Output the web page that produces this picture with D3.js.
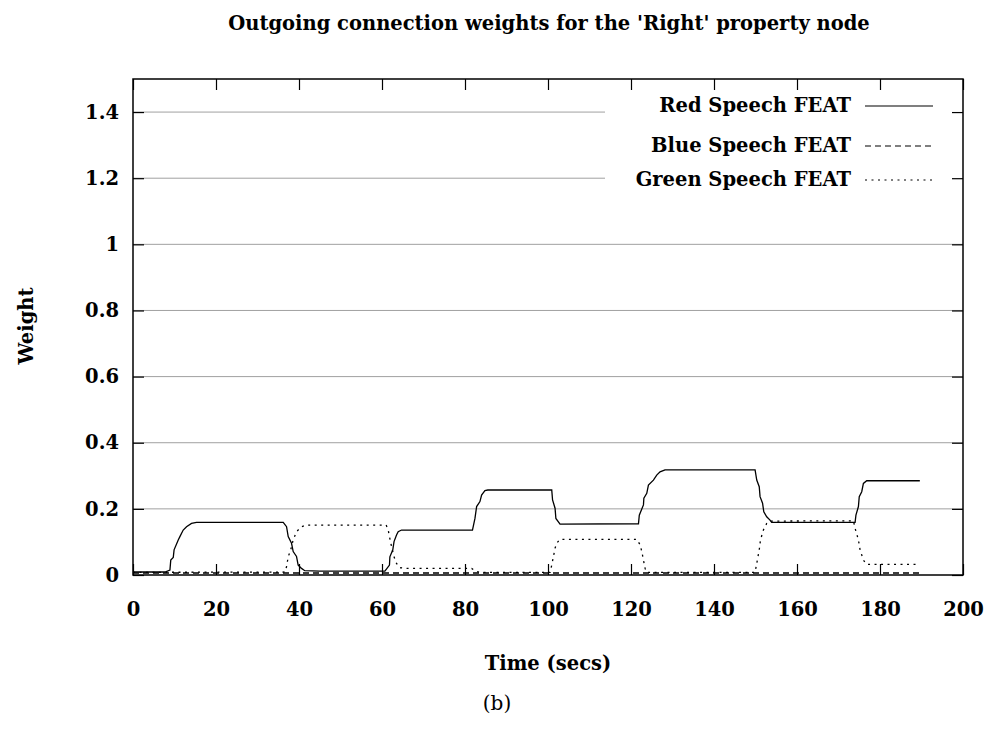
<!DOCTYPE html>
<html>
<head>
<meta charset="utf-8">
<script src="https://cdn.jsdelivr.net/npm/d3@7/dist/d3.min.js"></script>
<style>
  html, body { margin: 0; padding: 0; background: #fff; }
  svg text { font-family: "DejaVu Serif", "Liberation Serif", serif; fill: #000; }
</style>
</head>
<body>
<svg id="chart" width="995" height="739"></svg>
<script>
// ---- Data ----
const chartTitle = "Outgoing connection weights for the 'Right' property node";
const xLabel = "Time (secs)";
const yLabel = "Weight";
const caption = "(b)";
const seriesNames = ["Red Speech FEAT", "Blue Speech FEAT", "Green Speech FEAT"];
const xTicks = [0, 20, 40, 60, 80, 100, 120, 140, 160, 180, 200];
const yTicks = [0, 0.2, 0.4, 0.6, 0.8, 1, 1.2, 1.4];

// [time, weight]
const redSeries = [
  [0, 0.009], [7.7, 0.009], [8.9, 0.015], [9.1, 0.045], [9.7, 0.053], [9.9, 0.076],
  [10.9, 0.106], [11.3, 0.116], [12.1, 0.136], [12.9, 0.146], [14.1, 0.156], [15.3, 0.159],
  [36.2, 0.159], [37.0, 0.146], [37.4, 0.116], [38.2, 0.096], [38.6, 0.071], [39.4, 0.056],
  [39.8, 0.030], [40.6, 0.020], [41.4, 0.013], [45, 0.012], [60.7, 0.012],
  [61.8, 0.030], [61.9, 0.055], [62.6, 0.076], [62.9, 0.101], [63.5, 0.121], [63.9, 0.131],
  [64.7, 0.136], [81.8, 0.136], [82.4, 0.171], [82.8, 0.207], [83.6, 0.222], [84.0, 0.242],
  [84.8, 0.255], [85.5, 0.257], [100.9, 0.257], [101.1, 0.227], [101.7, 0.202], [101.9, 0.171],
  [102.9, 0.154], [121.8, 0.155], [122.0, 0.181], [123.0, 0.212], [123.1, 0.232], [123.8, 0.247],
  [124.2, 0.272], [125.4, 0.287], [126.2, 0.302], [127.0, 0.312], [128.2, 0.318], [149.9, 0.318],
  [150.3, 0.287], [150.9, 0.267], [151.1, 0.237], [151.7, 0.217], [152.0, 0.191], [152.7, 0.176],
  [153.5, 0.166], [153.9, 0.159], [174.0, 0.159], [174.2, 0.181], [174.8, 0.207], [175.0, 0.237],
  [175.6, 0.252], [176.0, 0.277], [176.8, 0.285], [189.6, 0.285]
];
const blueSeries = [
  [0, 0.006], [40, 0.006], [80, 0.006], [120, 0.006], [160, 0.006], [189.6, 0.006]
];
const greenSeries = [
  [0, 0.008], [36.6, 0.009], [37.0, 0.025], [37.4, 0.055], [38.0, 0.076], [38.6, 0.106],
  [39.4, 0.131], [40.6, 0.146], [41.8, 0.151], [61.0, 0.151], [61.5, 0.136], [61.8, 0.116],
  [62.3, 0.086], [62.9, 0.055], [63.5, 0.035], [64.3, 0.022], [66.0, 0.020], [81.6, 0.020],
  [82.5, 0.012], [83.5, 0.008], [100.5, 0.008], [100.9, 0.030], [101.3, 0.055], [101.7, 0.081],
  [102.1, 0.096], [102.9, 0.108], [121.4, 0.108], [122.2, 0.091], [122.6, 0.071], [123.0, 0.045],
  [123.4, 0.020], [123.8, 0.008], [149.9, 0.008], [150.3, 0.035], [150.9, 0.076], [151.2, 0.106],
  [151.9, 0.136], [152.7, 0.156], [153.5, 0.163], [173.6, 0.164], [174.0, 0.141], [174.8, 0.106],
  [175.2, 0.076], [176.0, 0.045], [176.8, 0.032], [189.6, 0.032]
];
const allSeries = [redSeries, blueSeries, greenSeries];

// ---- Layout ----
const svg = d3.select("#chart");
const mLeft = 133, mRight = 963, mTop = 79, mBottom = 575;
const x = d3.scaleLinear().domain([0, 200]).range([mLeft, mRight]);
const y = d3.scaleLinear().domain([0, 1.5]).range([mBottom, mTop]);
const dashes = [null, "6,4", "2,4.5"];
const tickLen = 11;
const fontSize = 19.5;

// gridlines (legend box hides part of the upper ones)
const legendBox = { x0: 605, y0: 88, y1: 196 };
svg.append("g").selectAll("line").data(yTicks.filter(d => d > 0)).join("line")
  .attr("x1", mLeft)
  .attr("x2", d => (y(d) > legendBox.y0 && y(d) < legendBox.y1) ? legendBox.x0 : mRight)
  .attr("y1", d => y(d)).attr("y2", d => y(d))
  .attr("stroke", "#a0a0a0").attr("stroke-width", 1);

// axes with inward ticks
const gx = svg.append("g").attr("transform", `translate(0,${mBottom})`)
  .call(d3.axisBottom(x).tickValues(xTicks).tickSize(-tickLen).tickPadding(27).tickFormat(d3.format("d")));
const gxt = svg.append("g").attr("transform", `translate(0,${mTop})`)
  .call(d3.axisTop(x).tickValues(xTicks).tickSize(-tickLen).tickFormat(""));
const gy = svg.append("g").attr("transform", `translate(${mLeft},0)`)
  .call(d3.axisLeft(y).tickValues(yTicks).tickSize(-tickLen).tickPadding(14).tickFormat(d => String(+d.toFixed(1))));
const gyr = svg.append("g").attr("transform", `translate(${mRight},0)`)
  .call(d3.axisRight(y).tickValues(yTicks).tickSize(-tickLen).tickFormat(""));
[gx, gxt, gy, gyr].forEach(g => {
  g.select(".domain").remove();
  g.selectAll(".tick line").attr("stroke", "#000").attr("stroke-width", 1.2);
  g.selectAll("text").attr("font-size", fontSize).attr("font-weight", "bold")
    .attr("font-family", "DejaVu Serif, serif").attr("fill", "#000");
});

// data lines
const line = d3.line().x(d => x(d[0])).y(d => y(d[1]));
svg.append("g").selectAll("path").data(allSeries).join("path")
  .attr("d", line).attr("fill", "none").attr("stroke", "#000")
  .attr("stroke-width", 1.3)
  .attr("stroke-dasharray", (d, i) => dashes[i]);

// frame
svg.append("rect").attr("x", mLeft).attr("y", mTop)
  .attr("width", mRight - mLeft).attr("height", mBottom - mTop)
  .attr("fill", "none").attr("stroke", "#000").attr("stroke-width", 1.5);

// legend
const legendRows = [105, 145, 179];
const lg = svg.append("g");
seriesNames.forEach((name, i) => {
  lg.append("text").attr("x", 851).attr("y", legendRows[i]).attr("dy", "0.35em")
    .attr("text-anchor", "end").attr("font-size", fontSize).attr("font-weight", "bold").text(name);
  lg.append("line").attr("x1", 865).attr("x2", 933)
    .attr("y1", legendRows[i] + 1).attr("y2", legendRows[i] + 1)
    .attr("stroke", "#000").attr("stroke-width", 1.2).attr("stroke-dasharray", dashes[i]);
});

// titles
svg.append("text").attr("x", 549).attr("y", 30).attr("text-anchor", "middle")
  .attr("font-size", fontSize).attr("font-weight", "bold").text(chartTitle);
svg.append("text").attr("x", 548).attr("y", 670).attr("text-anchor", "middle")
  .attr("font-size", fontSize).attr("font-weight", "bold").text(xLabel);
svg.append("text").attr("transform", "translate(33,326) rotate(-90)").attr("text-anchor", "middle")
  .attr("font-size", fontSize).attr("font-weight", "bold").text(yLabel);
svg.append("text").attr("x", 497).attr("y", 710).attr("text-anchor", "middle")
  .attr("font-size", 20).text(caption);
</script>
</body>
</html>
